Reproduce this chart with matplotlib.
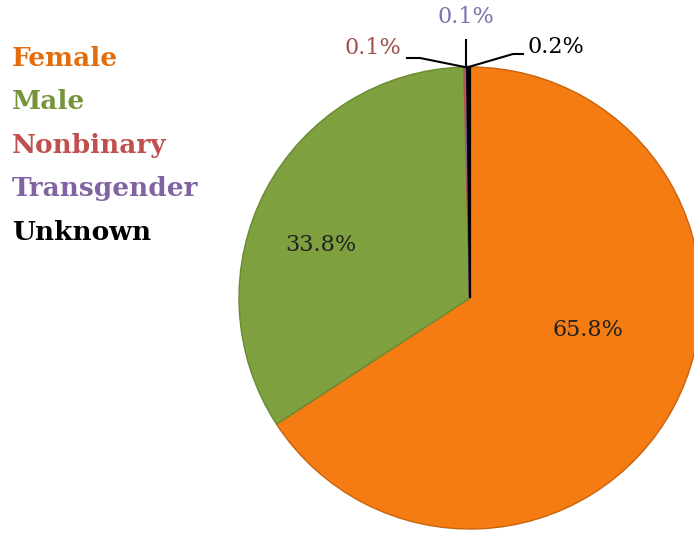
import numpy as np
import matplotlib.pyplot as plt

# datos del gráfico
categories = ['Female', 'Male', 'Nonbinary', 'Transgender', 'Unknown']
shares = [65.8, 33.8, 0.1, 0.1, 0.2]
slice_colors = ['#f57c12', '#7fa03f', '#c0504d', '#8064a2', '#000000']
edge_colors = ['#c8640e', '#6a8a32', '#c0504d', '#8064a2', '#000000']
legend_colors = ['#e46c0a', '#77933c', '#c0504d', '#8064a2', '#000000']
label_colors = ['#000000', '#000000', '#a0504e', '#8070a8', '#000000']

plt.rcParams['font.family'] = ['DejaVu Serif']

fig = plt.figure(figsize=(6.94, 5.33), dpi=100)

# pie centrado en (470, 298) px con radio 231 px
W, H = 694, 533
cx, cy, r = 470, 298, 231
ax = fig.add_axes([(cx - r) / W, (H - cy - r) / H, 2 * r / W, 2 * r / H])

wedges, _ = ax.pie(shares, colors=slice_colors, startangle=90, counterclock=False,
                   radius=1, wedgeprops=dict(linewidth=1))
for w, ec, s in zip(wedges, edge_colors, shares):
    w.set_edgecolor(ec)
    if s < 1:
        w.set_linewidth(1.6)
ax.set_xlim(-1, 1)
ax.set_ylim(-1, 1)
ax.axis('off')


def px(x, y):
    return (x - cx) / r, (cy - y) / r


def edge_point(w):
    ang = np.deg2rad((w.theta1 + w.theta2) / 2)
    return np.cos(ang), np.sin(ang)


# etiquetas dentro de los sectores grandes
ax.text(*px(588, 330), f'{shares[0]:.1f}%', ha='center', va='center', fontsize=16, color='#222222')
ax.text(*px(321, 245), f'{shares[1]:.1f}%', ha='center', va='center', fontsize=16, color='#222222')

# etiquetas con líneas guía para los sectores pequeños
leader = {
    2: dict(text=(373, 48), pts=[(407, 58), (420, 58)]),
    3: dict(text=(466, 17), pts=[(464, 40)]),
    4: dict(text=(556, 47), pts=[(523, 54), (513, 54)]),
}
for i, d in leader.items():
    pts = [px(*p) for p in d['pts']] + [edge_point(wedges[i])]
    if i == 3:
        pts[0] = (pts[-1][0], pts[0][1])
    xs, ys = zip(*pts)
    ax.plot(xs, ys, color='black', linewidth=1.5, clip_on=False)
    ax.text(*px(*d['text']), f'{shares[i]:.1f}%', ha='center', va='center',
            fontsize=16, color=label_colors[i])

# leyenda como texto coloreado
for k, (name, c) in enumerate(zip(categories, legend_colors)):
    fig.text(12 / W, 1 - (58 + 43.5 * k) / H, name, ha='left', va='center',
             fontsize=19, fontweight='bold', color=c)

fig.savefig('out.png', dpi=100)
